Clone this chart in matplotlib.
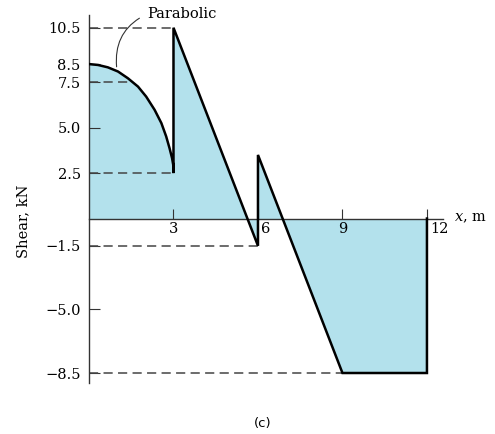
import numpy as np
import matplotlib.pyplot as plt

# parabolic part (x in m, shear in kN)
curva_x = [0, 0.32, 0.67, 1.03, 1.38, 1.74, 2.03, 2.33, 2.57, 2.74, 2.86, 2.95, 2.99, 3.0]
curva_v = [8.5, 8.45, 8.32, 8.09, 7.72, 7.26, 6.71, 5.98, 5.25, 4.52, 3.87, 3.32, 2.96, 2.5]

# straight parts
reta_x = [3, 6, 6, 9, 12, 12]
reta_v = [10.5, -1.5, 3.5, -8.5, -8.5, 0]

yticks = [10.5, 8.5, 7.5, 5.0, 2.5, -1.5, -5.0, -8.5]
ytick_labels = ['10.5', '8.5', '7.5', '5.0', '2.5', '\u22121.5', '\u22125.0', '\u22128.5']
xticks = [3, 6, 9, 12]

# dashed guide lines: (value, x where it stops)
guias = [(10.5, 3), (7.5, 1.52), (2.5, 3), (-1.5, 6), (-8.5, 9)]

x = np.array(curva_x + reta_x)
v = np.array(curva_v + reta_v)

plt.rcParams['font.family'] = 'DejaVu Serif'
plt.rcParams['mathtext.fontset'] = 'dejavuserif'
fig = plt.figure(figsize=(4.95, 4.34), dpi=100)
ax = fig.add_axes([89/495, 1 - 383/434, (443 - 89)/495, (383 - 15)/434])

ax.fill_between(x, v, 0, color='#b3e1ec', lw=0, zorder=1)

for val, xf in guias:
    ax.plot([0, xf], [val, val], color='#444444', lw=1.1, ls=(0, (6, 3.5)), zorder=2)

ax.plot(x, v, color='black', lw=1.8, solid_joinstyle='miter', zorder=3)

ax.set_xlim(0, 12.57)
ax.set_ylim(-9.05, 11.2)

ax.spines['top'].set_visible(False)
ax.spines['right'].set_visible(False)
ax.spines['bottom'].set_position(('data', 0))
for s in ['left', 'bottom']:
    ax.spines[s].set_color('#333333')
    ax.spines[s].set_linewidth(1.0)

ax.set_yticks(yticks)
ax.set_yticklabels(ytick_labels)
ax.tick_params(axis='y', direction='in', length=8, pad=6, labelsize=10.5, color='#333333')
ax.set_xticks(xticks)
ax.set_xticklabels(['', '', '', ''])
ax.tick_params(axis='x', direction='in', length=7, color='#333333')
for xt in xticks:
    ha = 'left' if xt in (6, 12) else 'center'
    dx = 0.12 if ha == 'left' else 0
    ax.text(xt + dx, -0.55, str(xt), ha=ha, va='center', fontsize=10.5)

ax.set_ylabel('Shear, kN', fontsize=10.5, labelpad=4)
ax.yaxis.set_label_coords(-0.165, 0.44)

ax.text(12.95, 0.05, '$x$, m', ha='left', va='center', fontsize=10.5, clip_on=False)

# leader line: leaves the text to the left, then bends down onto the curve
ax.annotate('Parabolic', xy=(0.98, 8.35), xytext=(2.06, 11.25), ha='left', va='center',
            fontsize=10.5, annotation_clip=False,
            arrowprops=dict(arrowstyle='-', lw=0.8, color='#333333', relpos=(0, 0.5),
                            shrinkA=4, shrinkB=0, connectionstyle='arc3,rad=0.35'))

fig.text(263/495, 1 - 423/434, '(c)', ha='center', va='center', fontsize=9.5, family='DejaVu Sans')

fig.savefig('out.png', dpi=100)
